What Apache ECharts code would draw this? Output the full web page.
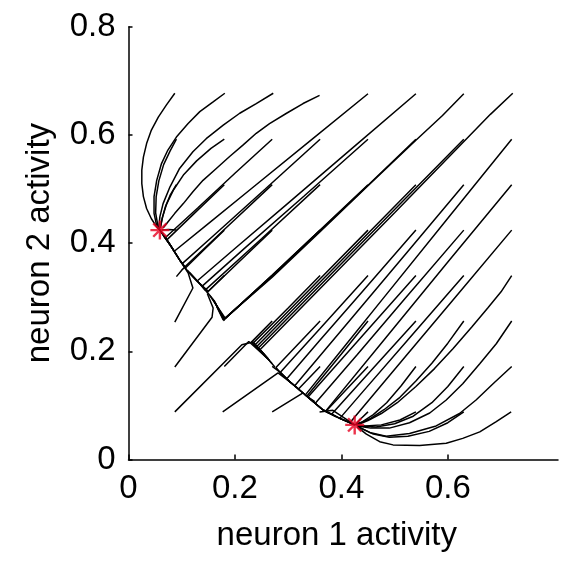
<!DOCTYPE html>
<html>
<head>
<meta charset="utf-8">
<script src="https://cdn.jsdelivr.net/npm/echarts@6/dist/echarts.min.js"></script>
<style>
html,body{margin:0;padding:0;background:#fff;}
#chart{width:568px;height:561px;}
</style>
</head>
<body>
<div id="chart"></div>
<script>
// Tick labels
const xTicks = [0, 0.2, 0.4, 0.6];
const yTicks = [0, 0.2, 0.4, 0.6, 0.8];

// Attractors (red stars)
const stars = [[0.059, 0.424], [0.425, 0.064]];

// Trajectories converging to the upper-left attractor
const famA7 = [
  [[0.087,0.677],[0.071,0.655],[0.056,0.633],[0.043,0.609],[0.034,0.584],[0.028,0.559],[0.025,0.535],[0.025,0.510],[0.028,0.486],[0.034,0.464],[0.043,0.445],[0.053,0.430],[0.059,0.424]]
];
const famA6 = [
  [[0.181,0.677],[0.159,0.661],[0.134,0.643],[0.112,0.621],[0.090,0.596],[0.074,0.572],[0.062,0.547],[0.053,0.516],[0.048,0.486],[0.048,0.455],[0.053,0.432],[0.059,0.424]],
  [[0.090,0.592],[0.078,0.570],[0.066,0.545],[0.057,0.515],[0.052,0.486],[0.051,0.456],[0.055,0.433],[0.059,0.424]]
];
const famA5 = [
  [[0.272,0.677],[0.240,0.658],[0.209,0.640],[0.178,0.618],[0.146,0.593],[0.121,0.569],[0.096,0.538],[0.078,0.504],[0.065,0.473],[0.059,0.449],[0.057,0.430],[0.059,0.424]],
  [[0.180,0.592],[0.155,0.575],[0.128,0.552],[0.104,0.527],[0.085,0.499],[0.071,0.471],[0.064,0.448],[0.060,0.430]],
  [[0.090,0.508],[0.078,0.488],[0.069,0.466],[0.063,0.445],[0.060,0.428]]
];
const famA4 = [
  [[0.359,0.673],[0.328,0.658],[0.297,0.640],[0.265,0.621],[0.240,0.603],[0.215,0.581],[0.190,0.560],[0.165,0.538],[0.140,0.516],[0.121,0.495],[0.103,0.473],[0.087,0.455],[0.074,0.439],[0.065,0.428]],
  [[0.270,0.592],[0.200,0.529],[0.130,0.465],[0.069,0.410],[0.059,0.424]],
  [[0.180,0.508],[0.130,0.461],[0.072,0.406],[0.064,0.417]],
  [[0.090,0.424],[0.075,0.425],[0.062,0.424]]
];
const famA3 = [
  [[0.450,0.676],[0.340,0.588],[0.230,0.500],[0.150,0.436],[0.086,0.385],[0.078,0.397],[0.066,0.413]],
  [[0.360,0.592],[0.257,0.500],[0.160,0.414],[0.101,0.362],[0.096,0.369],[0.078,0.397],[0.064,0.418]],
  [[0.270,0.508],[0.180,0.425],[0.106,0.356],[0.096,0.369],[0.078,0.397],[0.061,0.421]],
  [[0.180,0.424],[0.140,0.386],[0.107,0.354],[0.096,0.369],[0.078,0.397],[0.059,0.424]],
  [[0.090,0.338],[0.100,0.350],[0.106,0.356],[0.096,0.369],[0.080,0.394],[0.068,0.414]]
];
const famA2 = [
  [[0.540,0.676],[0.420,0.575],[0.300,0.474],[0.200,0.390],[0.129,0.330],[0.110,0.350],[0.100,0.364]],
  [[0.450,0.592],[0.330,0.487],[0.220,0.392],[0.138,0.320],[0.134,0.325],[0.110,0.350]],
  [[0.360,0.508],[0.250,0.408],[0.144,0.313],[0.134,0.325],[0.110,0.350]],
  [[0.270,0.424],[0.200,0.358],[0.148,0.309],[0.134,0.325],[0.112,0.347]],
  [[0.180,0.340],[0.150,0.311],[0.134,0.325],[0.115,0.345]],
  [[0.087,0.254],[0.121,0.317],[0.112,0.345],[0.097,0.367]]
];
const famA1 = [
  [[0.630,0.676],[0.590,0.636],[0.540,0.590],[0.450,0.506],[0.360,0.421],[0.270,0.337],[0.178,0.258],[0.166,0.282]],
  [[0.540,0.592],[0.450,0.507],[0.360,0.423],[0.270,0.339],[0.179,0.259],[0.163,0.289]],
  [[0.450,0.508],[0.360,0.424],[0.270,0.340],[0.180,0.259],[0.160,0.294]],
  [[0.360,0.424],[0.270,0.341],[0.181,0.260],[0.157,0.298]],
  [[0.270,0.340],[0.182,0.261],[0.153,0.303]],
  [[0.180,0.256],[0.162,0.292],[0.145,0.313]],
  [[0.087,0.171],[0.157,0.263],[0.159,0.280],[0.148,0.307]]
];

// Trajectories converging to the lower-right attractor
const famB0 = [
  [[0.722,0.677],[0.680,0.638],[0.500,0.456],[0.350,0.306],[0.247,0.203],[0.252,0.197]],
  [[0.630,0.592],[0.500,0.462],[0.350,0.312],[0.244,0.206],[0.256,0.193]],
  [[0.540,0.508],[0.400,0.368],[0.300,0.268],[0.241,0.209],[0.260,0.188]],
  [[0.450,0.424],[0.350,0.324],[0.238,0.212],[0.265,0.183]],
  [[0.360,0.340],[0.300,0.280],[0.235,0.216],[0.270,0.177]],
  [[0.270,0.256],[0.231,0.217],[0.262,0.186],[0.275,0.171]],
  [[0.180,0.172],[0.226,0.218],[0.262,0.186]],
  [[0.087,0.088],[0.213,0.212],[0.234,0.217],[0.262,0.187]]
];
const famB1 = [
  [[0.720,0.592],[0.600,0.446],[0.477,0.296],[0.400,0.202],[0.332,0.119],[0.350,0.107]],
  [[0.630,0.508],[0.520,0.379],[0.420,0.262],[0.312,0.136],[0.328,0.123],[0.345,0.109]],
  [[0.540,0.424],[0.440,0.311],[0.360,0.221],[0.297,0.149],[0.305,0.142],[0.328,0.123]],
  [[0.450,0.340],[0.360,0.242],[0.285,0.161],[0.305,0.142],[0.320,0.130]],
  [[0.360,0.256],[0.277,0.170],[0.284,0.162],[0.305,0.142],[0.315,0.134]],
  [[0.270,0.172],[0.284,0.162],[0.305,0.142]],
  [[0.177,0.088],[0.281,0.160],[0.305,0.142]]
];
const famB2 = [
  [[0.720,0.508],[0.600,0.365],[0.480,0.221],[0.370,0.089],[0.397,0.076],[0.412,0.070]],
  [[0.630,0.424],[0.520,0.298],[0.430,0.194],[0.351,0.104],[0.365,0.092],[0.390,0.079]],
  [[0.540,0.340],[0.440,0.229],[0.337,0.115],[0.365,0.092],[0.385,0.082]],
  [[0.450,0.256],[0.400,0.195],[0.335,0.117],[0.365,0.092],[0.378,0.085]],
  [[0.360,0.172],[0.319,0.130],[0.328,0.123],[0.365,0.092]],
  [[0.270,0.088],[0.328,0.123],[0.365,0.092]]
];
const famB3 = [
  [[0.720,0.424],[0.620,0.307],[0.520,0.190],[0.416,0.068],[0.425,0.064]],
  [[0.630,0.340],[0.530,0.227],[0.440,0.125],[0.397,0.076],[0.425,0.064]],
  [[0.540,0.256],[0.460,0.169],[0.382,0.084],[0.397,0.076],[0.425,0.064]],
  [[0.450,0.172],[0.371,0.089],[0.397,0.076],[0.425,0.064]],
  [[0.359,0.088],[0.384,0.091],[0.425,0.064]]
];
const famB4 = [
  [[0.720,0.340],[0.700,0.310],[0.675,0.280],[0.645,0.245],[0.610,0.205],[0.575,0.168],[0.540,0.135],[0.505,0.105],[0.475,0.085],[0.450,0.072],[0.435,0.066],[0.425,0.064]],
  [[0.630,0.256],[0.600,0.215],[0.570,0.178],[0.540,0.145],[0.510,0.115],[0.480,0.092],[0.455,0.076],[0.437,0.068],[0.427,0.065]],
  [[0.540,0.172],[0.512,0.136],[0.485,0.105],[0.460,0.083],[0.440,0.070],[0.427,0.065]],
  [[0.450,0.088],[0.436,0.075],[0.428,0.066]]
];
const famB5 = [
  [[0.720,0.256],[0.691,0.214],[0.660,0.177],[0.628,0.140],[0.597,0.110],[0.566,0.086],[0.528,0.068],[0.490,0.058],[0.455,0.058],[0.430,0.062]],
  [[0.630,0.172],[0.600,0.135],[0.570,0.105],[0.535,0.080],[0.500,0.066],[0.465,0.060],[0.435,0.062]],
  [[0.540,0.088],[0.510,0.073],[0.475,0.064],[0.445,0.062],[0.428,0.064]]
];
const famB6 = [
  [[0.720,0.172],[0.685,0.140],[0.653,0.110],[0.622,0.085],[0.578,0.062],[0.528,0.048],[0.484,0.043],[0.453,0.050],[0.430,0.061]],
  [[0.630,0.088],[0.600,0.068],[0.565,0.052],[0.525,0.043],[0.490,0.041],[0.460,0.047],[0.435,0.059]]
];
const famB7 = [
  [[0.719,0.088],[0.691,0.070],[0.660,0.051],[0.628,0.039],[0.597,0.030],[0.547,0.026],[0.497,0.027],[0.472,0.033],[0.447,0.047],[0.430,0.060]]
];

const families = [famA7, famA6, famA5, famA4, famA3, famA2, famA1,
                  famB0, famB1, famB2, famB3, famB4, famB5, famB6, famB7];

const FONT = "'Liberation Sans', Arial, sans-serif";
const series = [];
families.forEach(fam => fam.forEach(path => {
  series.push({
    type: 'line', data: path, showSymbol: false, symbol: 'none',
    silent: true, animation: false, z: 2,
    lineStyle: { color: '#000', width: 1.5 }
  });
}));
series.push({
  type: 'scatter', data: stars, z: 5, silent: true, animation: false,
  symbol: 'path://M0,-10L0,10M-10,0L10,0M-7,-7L7,7M-7,7L7,-7',
  symbolSize: 19,
  itemStyle: { color: '#e6001f', borderColor: '#e6001f', borderWidth: 2.4 }
});

const chart = echarts.init(document.getElementById('chart'), null, { renderer: 'canvas' });
chart.setOption({
  backgroundColor: '#fff',
  animation: false,
  grid: { left: 128.5, right: 10, top: 26.7, bottom: 101.5, containLabel: false },
  xAxis: {
    type: 'value', min: 0, max: 0.807, interval: 0.2,
    axisLine: { show: true, onZero: false, lineStyle: { color: '#000', width: 1.5 } },
    axisTick: { show: true, inside: true, length: 5, customValues: xTicks, lineStyle: { color: '#000', width: 1.5 } },
    axisLabel: { customValues: xTicks, fontSize: 33, color: '#000', fontFamily: FONT, margin: 13,
                 formatter: v => (v > 0.7 ? '' : String(v)) },
    splitLine: { show: false },
    name: 'neuron 1 activity', nameLocation: 'middle', nameGap: 60,
    nameTextStyle: { fontSize: 33, color: '#000', fontFamily: FONT, padding: [0, 13, 0, 0] }
  },
  yAxis: {
    type: 'value', min: 0, max: 0.8, interval: 0.2,
    axisLine: { show: true, onZero: false, lineStyle: { color: '#000', width: 1.5 } },
    axisTick: { show: true, inside: true, length: 4, customValues: yTicks, lineStyle: { color: '#000', width: 1.5 } },
    axisLabel: { customValues: yTicks, fontSize: 33, color: '#000', fontFamily: FONT, margin: 13 },
    splitLine: { show: false },
    name: 'neuron 2 activity', nameLocation: 'middle', nameGap: 72, nameRotate: 90,
    nameTextStyle: { fontSize: 33, color: '#000', fontFamily: FONT }
  },
  series: series
});
</script>
</body>
</html>
